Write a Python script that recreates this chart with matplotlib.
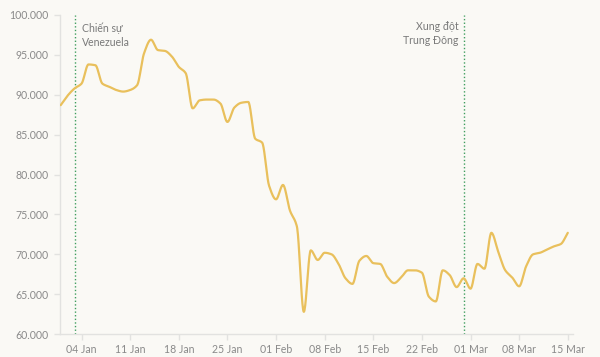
import numpy as np
import pandas as pd
import matplotlib
matplotlib.use("Agg")
import matplotlib.pyplot as plt
import matplotlib.dates as mdates
from matplotlib.ticker import FuncFormatter

# daily closing price, 01 Jan -> 15 Mar
dates = pd.date_range("2026-01-01", "2026-03-15", freq="D")
prices = [
    88.7, 89.9, 90.8, 91.4, 93.8, 93.7, 91.4, 91.0, 90.6, 90.4,
    90.6, 91.2, 95.2, 96.9, 95.6, 95.5, 94.8, 93.5, 92.7, 88.3,
    89.3, 89.4, 89.4, 88.9, 86.6, 88.4, 89.0, 89.1, 84.5, 84.0,
    78.6, 76.9, 78.7, 75.5, 73.5, 62.8, 70.5, 69.3, 70.2, 70.0,
    68.8, 67.0, 66.3, 69.2, 69.8, 68.9, 68.8, 67.2, 66.4, 67.1,
    68.0, 68.0, 67.7, 64.7, 64.1, 68.0, 67.4, 65.9, 67.0, 65.7,
    68.8, 68.2, 72.7, 70.3, 68.0, 67.1, 66.0, 68.5, 70.0, 70.2,
    70.6, 71.0, 71.3, 72.7,
]
prices = [p * 1000 for p in prices]

events = [("2026-01-03", "Chiến sự\nVenezuela", "left"),
          ("2026-02-28", "Xung đột\nTrung Đông", "right")]

BG = "#faf9f5"
LINE = "#e9c05c"
GREY = "#8a8a8a"
AXIS = "#e2e2e0"


def monotone(x, y, n=20):
    # monotone cubic (Fritsch-Carlson), like d3.curveMonotoneX
    x = np.asarray(x, float)
    y = np.asarray(y, float)
    h = np.diff(x)
    d = np.diff(y) / h
    m = np.zeros_like(y)
    m[0], m[-1] = d[0], d[-1]
    for i in range(1, len(y) - 1):
        if d[i - 1] * d[i] > 0:
            w1 = 2 * h[i] + h[i - 1]
            w2 = h[i] + 2 * h[i - 1]
            m[i] = (w1 + w2) / (w1 / d[i - 1] + w2 / d[i])
    xs, ys = [], []
    for i in range(len(h)):
        t = np.linspace(0, 1, n, endpoint=False)
        h00 = 2 * t**3 - 3 * t**2 + 1
        h10 = t**3 - 2 * t**2 + t
        h01 = -2 * t**3 + 3 * t**2
        h11 = t**3 - t**2
        xs.append(x[i] + t * h[i])
        ys.append(h00 * y[i] + h10 * h[i] * m[i] + h01 * y[i + 1] + h11 * h[i] * m[i + 1])
    xs.append([x[-1]])
    ys.append([y[-1]])
    return np.concatenate(xs), np.concatenate(ys)


plt.rcParams['font.family'] = ['Lato', 'DejaVu Sans']

fig = plt.figure(figsize=(6, 3.57), dpi=100, facecolor=BG)
ax = fig.add_axes([0.1, 0.064, 0.855, 0.894])
ax.set_facecolor(BG)

xnum = mdates.date2num(dates)
sx, sy = monotone(xnum, prices)
ax.plot(sx, sy, color=LINE, lw=1.6, solid_capstyle="round", zorder=3)

for d, label, side in events:
    xd = mdates.date2num(pd.Timestamp(d))
    ax.axvline(xd, color="#3f9e5e", lw=1, ls=(0, (1, 1.6)), zorder=2)
    if side == "left":
        ax.text(xd + 1.0, 99000, label, ha="left", va="top", color="#7a7a7a",
                fontsize=7.6, linespacing=1.25)
    else:
        ax.text(xd - 0.7, 99200, label, ha="right", va="top", color="#7a7a7a",
                fontsize=7.6, linespacing=1.25)

ax.set_ylim(60000, 100000)
ax.set_yticks(np.arange(60000, 100001, 5000))
ax.yaxis.set_major_formatter(FuncFormatter(lambda v, p: f"{int(v):,}".replace(",", ".")))
ax.set_xlim(mdates.date2num(pd.Timestamp("2026-01-01")) - 0.1,
            mdates.date2num(pd.Timestamp("2026-03-15")) + 0.75)
ax.xaxis.set_major_locator(mdates.DayLocator(bymonthday=None, interval=7))
ticks = pd.date_range("2026-01-04", "2026-03-15", freq="7D")
ax.set_xticks(mdates.date2num(ticks))
ax.set_xticklabels([t.strftime("%d %b") for t in ticks])

for s in ["top", "right"]:
    ax.spines[s].set_visible(False)
for s in ["left", "bottom"]:
    ax.spines[s].set_color(AXIS)
    ax.spines[s].set_linewidth(1)
ax.tick_params(colors=AXIS, labelcolor=GREY, labelsize=7.6, length=4, width=1)
ax.tick_params(axis="x", pad=3)
ax.tick_params(axis="y", pad=4)

fig.savefig("out.png", dpi=100, facecolor=BG)
